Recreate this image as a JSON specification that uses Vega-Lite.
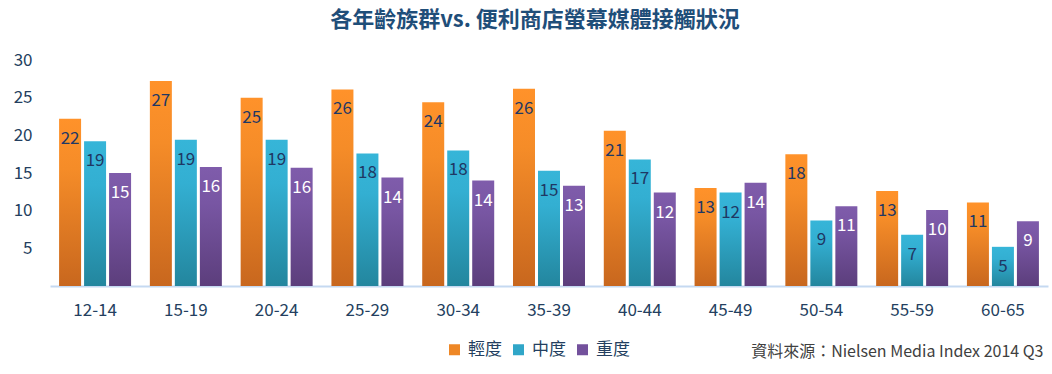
{
  "$schema": "https://vega.github.io/schema/vega-lite/v6.json",
  "width": 998,
  "height": 226,
  "autosize": {"type": "none"},
  "padding": {"left": 50, "top": 60, "right": 4, "bottom": 88},
  "background": "white",
  "title": {
    "text": "各年齡族群vs. 便利商店螢幕媒體接觸狀況",
    "font": "Noto Sans CJK TC",
    "fontSize": 22,
    "fontWeight": "bold",
    "color": "#1F4E79",
    "anchor": "middle",
    "offset": 19,
    "dx": -14
  },
  "config": {
    "view": {"stroke": null},
    "font": "Noto Sans CJK TC"
  },
  "data": {
    "values": [
      {"age": "12-14", "level": "輕度", "v": 22.2},
      {"age": "12-14", "level": "中度", "v": 19.2},
      {"age": "12-14", "level": "重度", "v": 15.0},
      {"age": "15-19", "level": "輕度", "v": 27.2},
      {"age": "15-19", "level": "中度", "v": 19.4},
      {"age": "15-19", "level": "重度", "v": 15.8},
      {"age": "20-24", "level": "輕度", "v": 25.0},
      {"age": "20-24", "level": "中度", "v": 19.4},
      {"age": "20-24", "level": "重度", "v": 15.7},
      {"age": "25-29", "level": "輕度", "v": 26.1},
      {"age": "25-29", "level": "中度", "v": 17.6},
      {"age": "25-29", "level": "重度", "v": 14.4},
      {"age": "30-34", "level": "輕度", "v": 24.4},
      {"age": "30-34", "level": "中度", "v": 18.0},
      {"age": "30-34", "level": "重度", "v": 14.0},
      {"age": "35-39", "level": "輕度", "v": 26.2},
      {"age": "35-39", "level": "中度", "v": 15.3},
      {"age": "35-39", "level": "重度", "v": 13.3},
      {"age": "40-44", "level": "輕度", "v": 20.6},
      {"age": "40-44", "level": "中度", "v": 16.8},
      {"age": "40-44", "level": "重度", "v": 12.4},
      {"age": "45-49", "level": "輕度", "v": 13.0},
      {"age": "45-49", "level": "中度", "v": 12.4},
      {"age": "45-49", "level": "重度", "v": 13.7},
      {"age": "50-54", "level": "輕度", "v": 17.5},
      {"age": "50-54", "level": "中度", "v": 8.7},
      {"age": "50-54", "level": "重度", "v": 10.6},
      {"age": "55-59", "level": "輕度", "v": 12.6},
      {"age": "55-59", "level": "中度", "v": 6.8},
      {"age": "55-59", "level": "重度", "v": 10.1},
      {"age": "60-65", "level": "輕度", "v": 11.1},
      {"age": "60-65", "level": "中度", "v": 5.2},
      {"age": "60-65", "level": "重度", "v": 8.6}
    ]
  },
  "encoding": {
    "x": {
      "field": "age",
      "type": "nominal",
      "sort": null,
      "scale": {"paddingInner": 0.207, "paddingOuter": 0.1},
      "axis": {
        "labelAngle": 0,
        "labelFontSize": 17,
        "labelColor": "#243F60",
        "labelPadding": 16,
        "ticks": false,
        "tickSize": 0,
        "domainColor": "#C5D9F1",
        "domainWidth": 2,
        "title": "資料來源：Nielsen Media Index 2014 Q3",
        "titleAnchor": "end",
        "titleAlign": "right",
        "titleX": 993,
        "titleFontSize": 16,
        "titleFontWeight": "normal",
        "titleColor": "#404040",
        "titlePadding": 25
      }
    },
    "xOffset": {
      "field": "level",
      "type": "nominal",
      "sort": ["輕度", "中度", "重度"],
      "scale": {"domain": ["輕度", "中度", "重度"], "paddingInner": 0.12, "paddingOuter": 0}
    },
    "y": {
      "field": "v",
      "type": "quantitative",
      "scale": {"domain": [0, 30], "nice": false},
      "axis": {
        "values": [5, 10, 15, 20, 25, 30],
        "title": null,
        "domain": false,
        "ticks": false,
        "tickSize": 0,
        "grid": false,
        "labelFontSize": 17,
        "labelColor": "#243F60",
        "labelPadding": 18
      }
    }
  },
  "layer": [
    {
      "mark": {"type": "bar", "opacity": 0},
      "encoding": {
        "fill": {
          "field": "level",
          "type": "nominal",
          "sort": ["輕度", "中度", "重度"],
          "scale": {
            "domain": ["輕度", "中度", "重度"],
            "range": ["#EE8726", "#30A6C8", "#73519C"]
          },
          "legend": {
            "title": null,
            "orient": "none",
            "direction": "horizontal",
            "legendX": 396,
            "legendY": 281,
            "symbolType": "square",
            "symbolSize": 121,
            "symbolOpacity": 1,
            "symbolStrokeWidth": 0,
            "labelFontSize": 17,
            "labelColor": "#243F60",
            "labelOffset": 5,
            "columnPadding": 8
          }
        }
      }
    },
    {
      "transform": [{"filter": "datum.level === '輕度'"}],
      "mark": {
        "type": "bar",
        "fill": {"gradient": "linear", "x1": 0, "y1": 0, "x2": 0, "y2": 1, "stops": [{"offset": 0, "color": "#FF922A"}, {"offset": 0.3, "color": "#F58C28"}, {"offset": 1, "color": "#C8671E"}]}
      }
    },
    {
      "transform": [{"filter": "datum.level === '中度'"}],
      "mark": {
        "type": "bar",
        "fill": {"gradient": "linear", "x1": 0, "y1": 0, "x2": 0, "y2": 1, "stops": [{"offset": 0, "color": "#36B5D8"}, {"offset": 0.3, "color": "#33AFD2"}, {"offset": 1, "color": "#23869E"}]}
      }
    },
    {
      "transform": [{"filter": "datum.level === '重度'"}],
      "mark": {
        "type": "bar",
        "fill": {"gradient": "linear", "x1": 0, "y1": 0, "x2": 0, "y2": 1, "stops": [{"offset": 0, "color": "#7F5CAB"}, {"offset": 0.3, "color": "#7856A3"}, {"offset": 1, "color": "#5C3E7C"}]}
      }
    },
    {
      "mark": {"type": "text", "baseline": "middle", "align": "center", "dy": 20, "fontSize": 17},
      "encoding": {
        "text": {"field": "v", "type": "quantitative", "format": ".0f"},
        "color": {
          "condition": {"test": "datum.level === '重度'", "value": "#FFFFFF"},
          "value": "#1F3864"
        }
      }
    }
  ]
}
